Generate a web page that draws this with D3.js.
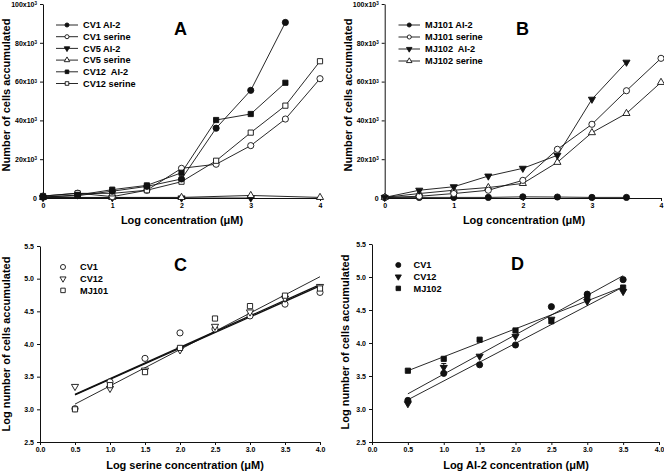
<!DOCTYPE html>
<html>
<head>
<meta charset="utf-8">
<script src="https://cdn.jsdelivr.net/npm/d3@7"></script>
<style>
  html, body { margin: 0; padding: 0; background: #fff; }
  svg { display: block; }
  text { font-family: "Liberation Sans", Arial, sans-serif; font-weight: bold; fill: #000; }
</style>
</head>
<body>
<svg id="chart" width="664" height="474"></svg>
<script>
// ---------------- DATA ----------------
const xFull = [0, 0.5, 1, 1.5, 2, 2.5, 3, 3.5, 4];
const xTo35 = [0, 0.5, 1, 1.5, 2, 2.5, 3, 3.5];
const xCV5AI2 = [0, 1, 2, 3];
const xCV5Ser = [0, 1, 2, 3, 4];

// Panel A (cells accumulated)
const cv1AI2 = [500, 1200, 3500, 6000, 9800, 36000, 55500, 90500];
const cv1Serine = [1000, 2500, 700, 4000, 15300, 17400, 27000, 40700, 61500];
const cv5AI2 = [200, 200, 0, 0];
const cv5Serine = [300, 300, 300, 1300, 300];
const cv12AI2 = [500, 1500, 4300, 6500, 13000, 40200, 43300, 59400];
const cv12Serine = [1000, 2400, 2400, 4000, 8400, 19200, 33700, 47600, 70500];

// Panel B
const mj101AI2 = [300, 300, 300, 300, 600, 500, 300, 300];
const mj101Serine = [300, 900, 2300, 4000, 9100, 25100, 38000, 55300, 72000];
const mj102AI2 = [300, 4000, 5800, 11300, 15300, 22000, 50900, 70000];
const mj102Serine = [300, 2300, 4000, 5400, 7500, 18400, 33700, 43600, 59600];

// Panel C (log values vs log serine)
const xC = [0.5, 1.0, 1.5, 2.0, 2.5, 3.0, 3.5, 4.0];
const cv1C = [3.01, 3.42, 3.78, 4.17, 4.23, 4.43, 4.61, 4.79];
const cv12C = [3.35, 3.32, 3.60, 3.91, 4.27, 4.49, 4.70, 4.88];
const mj101C = [3.00, 3.37, 3.57, 3.94, 4.39, 4.58, 4.74, 4.85];
// fitted lines [x0, y0, x1, y1]
const fitC = [[0.5, 3.22, 4.0, 4.89], [0.5, 3.23, 4.0, 4.91], [0.5, 3.08, 4.0, 5.03]];
const fitCWidth = [1.3, 1.3, 0.9];

// Panel D (log values vs log AI-2)
const xD = [0.5, 1.0, 1.5, 2.0, 2.5, 3.0, 3.5];
const cv1D = [3.13, 3.54, 3.67, 3.97, 4.55, 4.74, 4.96];
const cv12D = [3.08, 3.63, 3.80, 4.10, 4.36, 4.63, 4.78];
const mj102D = [3.58, 3.76, 4.05, 4.19, 4.33, 4.70, 4.84];
const fitD = [[0.5, 3.23, 3.5, 5.02], [0.5, 3.14, 3.5, 4.85], [0.5, 3.58, 3.5, 4.85]];
const errD = [[1.0, 3.56, 3.69]]; // CV12 error bar at x=1.0

const ticksLin = [0, 1, 2, 3, 4];
const ticksYA = [0, 20000, 40000, 60000, 80000, 100000];
const ticksHalf = [0, 0.5, 1, 1.5, 2, 2.5, 3, 3.5, 4];
const ticksLogY = [2.5, 3.0, 3.5, 4.0, 4.5, 5.0, 5.5];

// ---------------- DRAW ----------------
const svg = d3.select("#chart");
svg.append("rect").attr("width", 664).attr("height", 474).attr("fill", "#fff");

const INK = "#111";
const SIZE = { circle: 30, square: 27, tdown: 22, tup: 22 };

function sym(kind, size) {
  const types = { circle: d3.symbolCircle, square: d3.symbolSquare, tdown: d3.symbolTriangle, tup: d3.symbolTriangle };
  return d3.symbol().type(types[kind]).size(size)();
}
function marker(g, kind, filled, x, y, size) {
  g.append("path")
    .attr("d", sym(kind, size))
    .attr("transform", `translate(${x},${y})` + (kind === "tdown" ? " rotate(180)" : ""))
    .attr("fill", filled ? INK : "#fff")
    .attr("stroke", INK)
    .attr("stroke-width", 0.9);
}

function yTickFormatK(sel) {
  sel.each(function (d) {
    const t = d3.select(this);
    t.text(null);
    if (d === 0) { t.text("0"); return; }
    t.append("tspan").text((d / 1000) + "x10");
    t.append("tspan").attr("dy", "-0.4em").attr("font-size", "4.5px").text("3");
  });
}

function axes(g, x, y, xt, yt, xfmt, yfmtK, yfmt) {
  const ax = g.append("g").attr("transform", `translate(0,${y.range()[0]})`)
    .call(d3.axisBottom(x).tickValues(xt).tickSize(3).tickSizeOuter(0).tickPadding(2).tickFormat(xfmt));
  const ay = g.append("g").attr("transform", `translate(${x.range()[0]},0)`)
    .call(d3.axisLeft(y).tickValues(yt).tickSize(3).tickSizeOuter(0).tickPadding(3).tickFormat(yfmt || null));
  [ax, ay].forEach(a => {
    a.selectAll("path.domain").attr("stroke", INK).attr("stroke-width", 1);
    a.selectAll("line").attr("stroke", INK);
    a.selectAll("text").attr("font-size", "7px").attr("font-family", '"Liberation Sans", Arial, sans-serif').attr("font-weight", "bold").attr("fill", "#000");
  });
  if (yfmtK) ay.selectAll(".tick text").call(yTickFormatK);
}

function seriesLine(g, x, y, xs, ys, kind, filled) {
  const pts = xs.map((v, i) => [v, ys[i]]);
  g.append("path").datum(pts)
    .attr("d", d3.line().x(d => x(d[0])).y(d => y(d[1])))
    .attr("fill", "none").attr("stroke", INK).attr("stroke-width", 0.9);
  pts.forEach(p => marker(g, kind, filled, x(p[0]), y(p[1]), SIZE[kind]));
}

function legendLine(g, x0, x1, tx, yy, kind, filled, label) {
  g.append("line").attr("x1", x0).attr("x2", x1).attr("y1", yy).attr("y2", yy).attr("stroke", INK).attr("stroke-width", 0.9);
  marker(g, kind, filled, (x0 + x1) / 2, yy, 13);
  g.append("text").attr("x", tx).attr("y", yy + 3.3).attr("font-size", "9.2px").text(label);
}
function legendPt(g, sx, tx, yy, kind, filled, label) {
  marker(g, kind, filled, sx, yy, kind === "tdown" ? 16 : 20);
  g.append("text").attr("x", tx).attr("y", yy + 3.3).attr("font-size", "9.2px").text(label);
}

function titles(g, cx, by, xlabel, ty, tcy, ylabel) {
  g.append("text").attr("x", cx).attr("y", by).attr("text-anchor", "middle").attr("font-size", "11px").text(xlabel);
  g.append("text").attr("transform", `translate(${ty},${tcy}) rotate(-90)`).attr("text-anchor", "middle").attr("font-size", "11px").text(ylabel);
}

// ----- Panel A -----
{
  const g = svg.append("g");
  const x = d3.scaleLinear().domain([0, 4]).range([43, 320]);
  const y = d3.scaleLinear().domain([0, 100000]).range([198, 4]);
  axes(g, x, y, ticksLin, ticksYA, d3.format("d"), true);
  seriesLine(g, x, y, xCV5AI2, cv5AI2, "tdown", true);
  seriesLine(g, x, y, xCV5Ser, cv5Serine, "tup", false);
  seriesLine(g, x, y, xFull, cv1Serine, "circle", false);
  seriesLine(g, x, y, xFull, cv12Serine, "square", false);
  seriesLine(g, x, y, xTo35, cv12AI2, "square", true);
  seriesLine(g, x, y, xTo35, cv1AI2, "circle", true);
  const L = [["circle", true, "CV1 AI-2"], ["circle", false, "CV1 serine"], ["tdown", true, "CV5 AI-2"],
             ["tup", false, "CV5 serine"], ["square", true, "CV12\u00a0 AI-2"], ["square", false, "CV12 serine"]];
  L.forEach((l, i) => legendLine(g, 56, 78, 83, 25 + i * 11.7, l[0], l[1], l[2]));
  g.append("text").attr("x", 174).attr("y", 34.5).attr("font-size", "18px").text("A");
  titles(g, 182, 224, "Log concentration (\u03bcM)", 10, 95, "Number of cells accumulated");
}

// ----- Panel B -----
{
  const g = svg.append("g");
  const x = d3.scaleLinear().domain([0, 4]).range([384.7, 661]);
  const y = d3.scaleLinear().domain([0, 100000]).range([198, 4]);
  axes(g, x, y, ticksLin, ticksYA, d3.format("d"), true);
  seriesLine(g, x, y, xTo35, mj101AI2, "circle", true);
  seriesLine(g, x, y, xFull, mj102Serine, "tup", false);
  seriesLine(g, x, y, xFull, mj101Serine, "circle", false);
  seriesLine(g, x, y, xTo35, mj102AI2, "tdown", true);
  const L = [["circle", true, "MJ101 AI-2"], ["circle", false, "MJ101 serine"], ["tdown", true, "MJ102\u00a0 AI-2"], ["tup", false, "MJ102 serine"]];
  L.forEach((l, i) => legendLine(g, 398.5, 420, 425, 25 + i * 12, l[0], l[1], l[2]));
  g.append("text").attr("x", 516).attr("y", 34.5).attr("font-size", "18px").text("B");
  titles(g, 524, 224, "Log concentration (\u03bcM)", 352, 95, "Number of cells accumulated");
}

// ----- Panel C -----
{
  const g = svg.append("g");
  const x = d3.scaleLinear().domain([0, 4]).range([40, 320]);
  const y = d3.scaleLinear().domain([2.5, 5.5]).range([442, 246]);
  axes(g, x, y, ticksHalf, ticksLogY, d3.format(".1f"), false, d3.format(".1f"));
  fitC.forEach((f, i) => g.append("line").attr("x1", x(f[0])).attr("y1", y(f[1])).attr("x2", x(f[2])).attr("y2", y(f[3]))
    .attr("stroke", INK).attr("stroke-width", fitCWidth[i]));
  const S = [[cv1C, "circle"], [cv12C, "tdown"], [mj101C, "square"]];
  S.forEach(s => xC.forEach((v, i) => marker(g, s[1], false, x(v), y(s[0][i]), SIZE[s[1]])));
  legendPt(g, 63, 80, 267, "circle", false, "CV1");
  legendPt(g, 63, 80, 278.7, "tdown", false, "CV12");
  legendPt(g, 63, 80, 290.4, "square", false, "MJ101");
  g.append("text").attr("x", 174).attr("y", 270.5).attr("font-size", "18px").text("C");
  titles(g, 185, 469, "Log serine concentration (\u03bcM)", 10, 344, "Log number of cells accumulated");
}

// ----- Panel D -----
{
  const g = svg.append("g");
  const x = d3.scaleLinear().domain([0, 4]).range([372, 659]);
  const y = d3.scaleLinear().domain([2.5, 5.5]).range([442, 244]);
  axes(g, x, y, ticksHalf, ticksLogY, d3.format(".1f"), false, d3.format(".1f"));
  fitD.forEach(f => g.append("line").attr("x1", x(f[0])).attr("y1", y(f[1])).attr("x2", x(f[2])).attr("y2", y(f[3]))
    .attr("stroke", INK).attr("stroke-width", 0.9));
  errD.forEach(e => {
    g.append("line").attr("x1", x(e[0])).attr("x2", x(e[0])).attr("y1", y(e[1])).attr("y2", y(e[2])).attr("stroke", INK);
    [e[1], e[2]].forEach(v => g.append("line").attr("x1", x(e[0]) - 2.5).attr("x2", x(e[0]) + 2.5).attr("y1", y(v)).attr("y2", y(v)).attr("stroke", INK));
  });
  const S = [[cv1D, "circle"], [cv12D, "tdown"], [mj102D, "square"]];
  S.forEach(s => xD.forEach((v, i) => marker(g, s[1], true, x(v), y(s[0][i]), SIZE[s[1]])));
  legendPt(g, 398.3, 413.5, 265, "circle", true, "CV1");
  legendPt(g, 398.3, 413.5, 276.7, "tdown", true, "CV12");
  legendPt(g, 398.3, 413.5, 288.4, "square", true, "MJ102");
  g.append("text").attr("x", 511).attr("y", 270).attr("font-size", "18px").text("D");
  titles(g, 516, 469, "Log AI-2 concentration (\u03bcM)", 349, 342, "Log number of cells accumulated");
}
</script>
</body>
</html>
